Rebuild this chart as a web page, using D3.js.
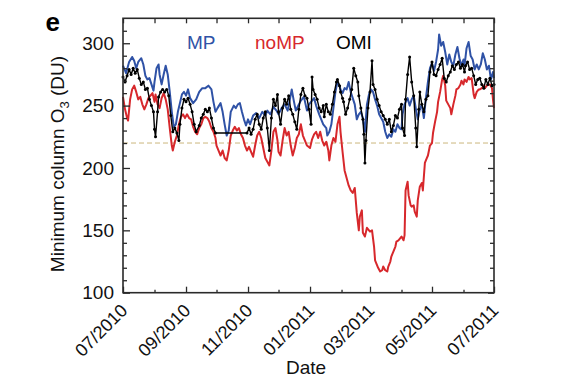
<!DOCTYPE html>
<html><head><meta charset="utf-8">
<script src="https://cdn.jsdelivr.net/npm/d3@7"></script>
<style>
body{margin:0;background:#fff;}
text{font-family:"Liberation Sans",Arial,Helvetica,sans-serif;}
</style>
</head><body>
<svg id="c" width="575" height="379"></svg>
<script>
// ---------- data ----------
const startDate = "2010-07-01";
const endDate = "2011-07-01";
const yMajorTicks = [100, 150, 200, 250, 300];
const seriesNames = ["MP", "noMP", "OMI"];
const thresholdValue = 220;

const mpDays = [0,3,6,9,11,13,15,18,20,22,24,26,28,30,31,33,35,36,38,40,42,44,46,48,50,52,54,56,58,60,62,64,66,69,72,75,78,81,84,87,89,91,93,96,98,100,102,104,106,109,111,113,115,117,119,121,123,125,128,131,134,137,140,142,145,148,151,153,156,159,162,164,166,168,170,173,175,178,181,183,185,188,190,193,195,197,200,201,203,205,207,209,211,213,214,216,218,220,222,224,226,228,230,232,234,236,238,240,242,244,246,248,250,252,254,256,258,260,262,264,266,268,270,272,274,275,277,280,282,284,286,288,290,292,294,296,298,300,302,304,306,308,310,311,313,315,317,319,321,323,325,327,329,331,333,335,336,338,340,342,344,346,348,350,352,354,356,358,360,362,364,365];
const mpValues = [282,276,285,289,286,280,285,288,283,274,271,272,267,262,269,280,283,275,267,275,282,275,261,245,233,235,245,252,259,261,258,263,256,252,255,261,264,264,266,263,253,245,248,252,245,235,226,230,245,250,248,251,252,245,239,234,239,235,242,244,240,245,242,246,243,249,246,243,248,251,246,254,263,254,246,251,254,257,246,251,253,256,250,243,239,235,232,226,229,235,248,261,269,266,263,260,264,263,269,261,256,251,239,243,245,240,229,251,259,263,261,255,250,243,240,237,229,224,227,225,231,229,235,232,231,243,251,256,250,255,258,248,239,247,251,240,256,269,280,284,278,285,295,307,298,301,293,283,291,285,282,291,297,288,282,287,282,296,301,290,287,279,283,279,283,292,287,279,282,271,277,272];

const nompDays = [0,2,4,5,7,9,11,13,15,17,19,21,23,25,27,29,31,32,34,36,38,40,42,44,46,48,49,51,53,55,57,59,61,63,65,67,69,71,73,75,77,79,81,83,85,87,89,91,92,94,96,98,100,102,104,106,108,110,112,114,116,118,120,122,124,126,128,130,132,134,136,138,140,142,144,146,148,150,152,153,155,157,159,161,163,165,167,169,171,173,175,177,181,184,186,188,190,192,194,196,198,200,202,203,205,207,209,211,213,214,216,218,220,222,224,226,228,230,232,233,235,236,238,240,242,243,245,247,248,250,251,253,255,256,258,260,261,263,264,266,268,269,271,273,274,276,277,278,280,281,283,284,286,287,289,290,292,294,295,297,299,300,302,304,305,307,309,310,312,314,315,317,318,320,322,323,325,327,328,330,332,333,335,336,338,340,341,343,345,346,348,350,351,353,355,356,358,359,361,363,364,365];
const nompValues = [257,247,240,238,255,263,266,261,255,257,251,247,251,256,258,260,253,259,251,248,256,260,255,247,232,218,214,221,226,235,241,243,240,243,240,239,233,229,227,232,235,240,241,240,237,232,229,224,218,214,210,214,208,206,214,226,230,233,230,232,227,224,218,214,217,213,209,218,226,229,224,216,208,205,202,214,229,232,222,213,210,222,232,226,229,218,210,216,224,227,235,226,218,216,223,227,229,224,229,222,218,221,214,206,218,224,221,235,241,229,213,198,192,186,182,180,184,164,150,161,166,148,145,152,150,149,150,137,126,122,120,117,118,121,118,117,121,125,129,133,137,141,142,144,145,142,146,182,189,178,170,169,170,165,161,174,185,188,182,204,208,210,218,220,228,237,245,253,261,271,274,266,254,251,248,243,251,258,263,264,267,270,267,271,269,273,271,272,259,256,261,263,263,264,266,264,266,267,267,264,255,248];

const omiDays = [0,2,4,6,8,10,12,14,16,18,20,22,24,26,28,30,31,32,34,35,37,39,41,43,45,47,49,51,53,55,56,58,60,62,64,66,68,70,72,75,77,79,81,83,85,87,89,91,122,124,126,128,130,132,134,136,138,140,142,144,146,148,150,152,153,155,157,159,161,163,165,167,169,171,173,175,177,179,181,183,185,186,187,189,191,193,195,197,198,200,202,204,206,208,210,211,213,214,216,217,219,221,223,225,227,229,231,232,234,236,237,238,239,241,243,245,246,248,250,252,254,256,258,260,262,264,266,268,270,272,274,275,277,278,280,282,284,286,288,289,291,292,294,296,298,300,302,304,306,308,310,312,314,316,318,320,322,324,326,328,330,332,334,336,337,339,341,343,345,347,349,351,353,355,357,359,361,363,365];
const omiValues = [273,269,274,279,275,280,276,279,272,267,269,263,264,255,250,245,231,225,245,257,261,263,261,263,258,242,229,232,228,222,235,248,255,253,256,251,245,235,229,234,240,243,247,245,248,240,232,228,228,232,227,231,239,243,235,231,240,245,232,214,240,255,250,259,245,235,248,255,251,258,247,243,237,231,247,259,264,258,256,247,235,273,263,259,255,248,245,250,241,251,245,243,251,261,269,271,266,261,256,253,243,248,255,263,280,274,269,258,248,239,227,204,222,248,261,286,267,263,255,250,245,242,239,235,239,229,234,242,240,247,251,232,226,255,275,289,269,258,232,217,247,261,251,245,255,258,277,285,275,274,279,283,288,272,269,274,277,282,279,283,285,280,283,277,282,285,279,280,274,267,271,272,267,264,271,267,272,266,267];

// ---------- layout ----------
const plot = {left: 123, right: 494, top: 18.3, bottom: 292.7};
const colors = {MP: "#2f52a6", noMP: "#d7282c", OMI: "#000000"};

const svg = d3.select("#c");
const parse = d3.utcParse("%Y-%m-%d");
const t0 = parse(startDate), t1 = parse(endDate);
const x = d3.scaleUtc().domain([t0, t1]).range([plot.left, plot.right]);
const y = d3.scaleLinear().domain([100, 320]).range([plot.bottom, plot.top]);

function toSeries(days, vals) {
  return days.map((d, i) => ({date: d3.utcDay.offset(t0, d), v: vals[i]}));
}
const mp = toSeries(mpDays, mpValues);
const nomp = toSeries(nompDays, nompValues);
const omi = toSeries(omiDays, omiValues);

const axisColor = "#2a2a2a";
function styleAxis(g) {
  g.select(".domain").remove();
  g.selectAll(".tick line").attr("stroke", axisColor).attr("stroke-width", 1.3);
  g.selectAll(".tick text").attr("fill", "#111").style("font-size", "19px");
}

// threshold dashed line
svg.append("line")
  .attr("x1", plot.left).attr("x2", plot.right)
  .attr("y1", y(thresholdValue)).attr("y2", y(thresholdValue))
  .attr("stroke", "#cbb67c").attr("stroke-width", 1)
  .attr("stroke-dasharray", "5,3");

// lines
const line = d3.line().x(d => x(d.date)).y(d => y(d.v));
svg.append("path").datum(nomp).attr("d", line)
  .attr("fill", "none").attr("stroke", colors.noMP).attr("stroke-width", 2).attr("stroke-linejoin", "round");
svg.append("path").datum(mp).attr("d", line)
  .attr("fill", "none").attr("stroke", colors.MP).attr("stroke-width", 2).attr("stroke-linejoin", "round");
svg.append("path").datum(omi).attr("d", line)
  .attr("fill", "none").attr("stroke", colors.OMI).attr("stroke-width", 1.4).attr("stroke-linejoin", "round");
svg.append("g").selectAll("circle").data(omi).join("circle")
  .attr("cx", d => x(d.date)).attr("cy", d => y(d.v)).attr("r", 1.5).attr("fill", "#000");

// axes: y
const yMinor = d3.range(110, 320, 10).filter(v => v % 50 !== 0);
svg.append("g").attr("transform", `translate(${plot.left},0)`)
  .call(d3.axisLeft(y).tickValues(yMajorTicks).tickSize(-7).tickPadding(9).tickFormat(d3.format("d")))
  .call(styleAxis);
svg.append("g").attr("transform", `translate(${plot.left},0)`)
  .call(d3.axisLeft(y).tickValues(yMinor).tickSize(-4).tickFormat(""))
  .call(styleAxis);
svg.append("g").attr("transform", `translate(${plot.right},0)`)
  .call(d3.axisRight(y).tickValues(yMajorTicks).tickSize(-6).tickFormat(""))
  .call(styleAxis);
svg.append("g").attr("transform", `translate(${plot.right},0)`)
  .call(d3.axisRight(y).tickValues(yMinor).tickSize(-4).tickFormat(""))
  .call(styleAxis);

// axes: x
const majorMonths = d3.utcMonth.range(t0, d3.utcDay.offset(t1, 1), 2);
const allMonths = d3.utcMonth.range(t0, d3.utcDay.offset(t1, 1));
const minorMonths = allMonths.filter(d => !majorMonths.some(m => +m === +d));
const fmt = d3.utcFormat("%m/%Y");
const xb = svg.append("g").attr("transform", `translate(0,${plot.bottom})`)
  .call(d3.axisBottom(x).tickValues(majorMonths).tickSize(-6).tickFormat(fmt))
  .call(styleAxis);
xb.selectAll(".tick text")
  .attr("text-anchor", "end")
  .attr("y", 0).attr("dy", 0)
  .attr("transform", "translate(5,19) rotate(-45)")
  .style("font-size", "18px");
svg.append("g").attr("transform", `translate(0,${plot.bottom})`)
  .call(d3.axisBottom(x).tickValues(minorMonths).tickSize(-3).tickFormat(""))
  .call(styleAxis);
svg.append("g").attr("transform", `translate(0,${plot.top})`)
  .call(d3.axisTop(x).tickValues(allMonths).tickSize(-5).tickFormat(""))
  .call(styleAxis);

// frame
svg.append("rect")
  .attr("x", plot.left).attr("y", plot.top)
  .attr("width", plot.right - plot.left).attr("height", plot.bottom - plot.top)
  .attr("fill", "none").attr("stroke", axisColor).attr("stroke-width", 1.6);

// legend
const legendX = [187, 255, 336];
seriesNames.forEach((s, i) => {
  svg.append("text").attr("x", legendX[i]).attr("y", 48.5)
    .attr("fill", colors[s]).style("font-size", "19px").text(s);
});

// labels
svg.append("text").attr("x", 45.5).attr("y", 30.5)
  .style("font-size", "26px").style("font-weight", "bold").attr("fill", "#000").text("e");

const yl = svg.append("text")
  .attr("transform", "translate(64,164) rotate(-90)")
  .attr("text-anchor", "middle").style("font-size", "19px").attr("fill", "#111");
yl.append("tspan").text("Minimum column O");
yl.append("tspan").attr("dy", 5).style("font-size", "13px").text("3");
yl.append("tspan").attr("dy", -5).text(" (DU)");

svg.append("text").attr("x", 306).attr("y", 373.5)
  .attr("text-anchor", "middle").style("font-size", "19px").attr("fill", "#111").text("Date");
</script>
</body></html>
